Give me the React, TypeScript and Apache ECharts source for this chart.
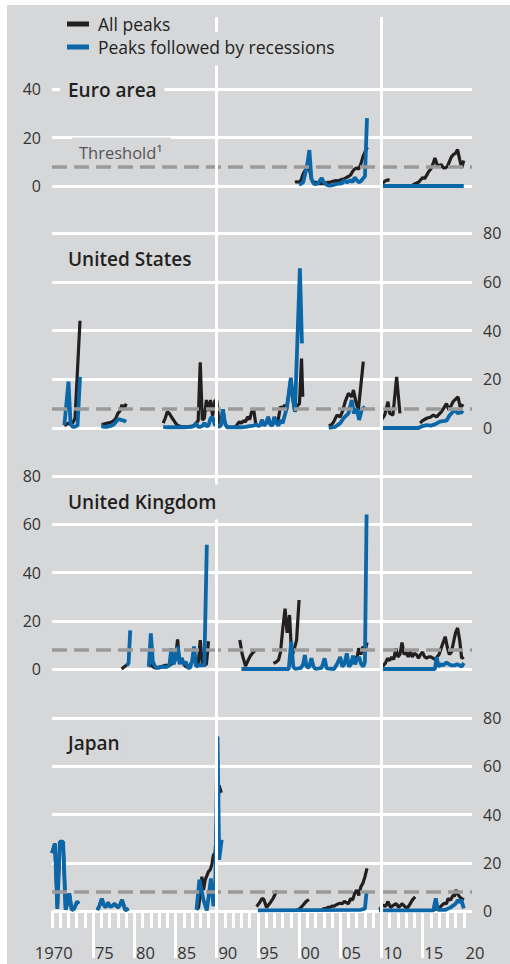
import React, { useEffect, useRef } from "react";
import * as echarts from "echarts";

type Pt = [number, number | null];

// ---------- axes & reference values ----------
const xMin = 1970;
const xMax = 2021;
const tickFirst = 1970;
const tickLast = 2020;
const tickStep = 5;
const longTickYears = [1975, 1980, 1985, 1995, 2000, 2005, 2015];
const dividerYears = [1990, 2010];
const threshold = 8;
const thresholdLabel = "Threshold¹";
const seriesNames = ["All peaks", "Peaks followed by recessions"];
const panelTitles = ["Euro area", "United States", "United Kingdom", "Japan"];
const panelMax = [40, 80, 80, 80];
const yStep = 20;

// ---------- Euro area ----------
const euroAll: Pt[] = [
  [1999.5, 1.5], [1999.75, 1.8], [2000, 1.5], [2000.25, 2.5], [2000.5, 5], [2000.75, 6.5], [2001, 8], [2001.25, 7],
  [2001.5, 3], [2001.75, 1.5], [2002, 1.5], [2002.25, 1.2], [2002.5, 1], [2002.75, 1], [2003, 1], [2003.25, 1.2],
  [2003.5, 1.5], [2003.75, 1.5], [2004, 1.8], [2004.25, 2], [2004.5, 2.2], [2004.75, 2], [2005, 2.5], [2005.25, 2.8],
  [2005.5, 3], [2005.75, 3.5], [2006, 4], [2006.25, 4.5], [2006.5, 6], [2006.75, 7], [2007, 7.5], [2007.25, 7],
  [2007.5, 9], [2007.75, 12], [2008, 14], [2008.3, 16],
  [2009, null],
  [2010, 0.3], [2010.25, 1.5], [2010.5, 2.2], [2010.75, 2.5], [2011, 2.4],
  [2012, null],
  [2013.75, 0.3], [2014, 0.8], [2014.25, 1.2], [2014.5, 1.5], [2014.75, 2.5], [2015, 3.5], [2015.25, 3], [2015.5, 4.5],
  [2015.75, 6], [2016, 7], [2016.25, 9], [2016.5, 11.5], [2016.75, 9], [2017, 8], [2017.25, 9], [2017.5, 7.5],
  [2017.75, 7.5], [2018, 8], [2018.25, 10], [2018.5, 12], [2018.75, 13], [2019, 13.5], [2019.25, 15], [2019.5, 11],
  [2019.75, 7.5], [2020, 10.5],
];
const euroRec: Pt[] = [
  [2000, 0.5], [2000.25, 1], [2000.5, 1.5], [2000.75, 5], [2001, 9], [2001.25, 14.8], [2001.5, 3], [2001.75, 1],
  [2002, 0.8], [2002.25, 1], [2002.5, 2], [2002.75, 3.3], [2003, 1.5], [2003.25, 0.8], [2003.5, 0.3], [2003.75, 0.2],
  [2004, 0.3], [2004.25, 0.5], [2004.5, 0.8], [2004.75, 1], [2005, 1], [2005.25, 1.2], [2005.5, 2.5], [2005.75, 1.5],
  [2006, 1.8], [2006.25, 2.5], [2006.5, 1.5], [2006.75, 3.5], [2007, 2.5], [2007.25, 1.5], [2007.5, 2], [2007.75, 3],
  [2008, 4], [2008.25, 28],
  [2009, null],
  [2010, 0], [2020, 0],
];

// ---------- United States ----------
const usAll: Pt[] = [
  [1971.5, 1], [1971.75, 1.5], [1972, 2], [1972.25, 1.5], [1972.5, 2], [1972.8, 4], [1973.1, 24], [1973.4, 44],
  [1974, null],
  [1976, 1.5], [1976.25, 1.5], [1976.5, 1.8], [1976.75, 2], [1977, 2.2], [1977.25, 2.5], [1977.5, 3], [1977.75, 4],
  [1978, 6], [1978.25, 7], [1978.5, 9.5], [1978.75, 7.5], [1979, 10],
  [1980, null],
  [1983.5, 2], [1983.75, 4], [1984, 6.7], [1984.25, 6], [1984.5, 4.5], [1984.75, 3.3], [1985, 2], [1985.25, 1],
  [1985.5, 0.8], [1985.75, 0.5], [1986.5, 0.5], [1987, 0.8], [1987.25, 1], [1987.5, 2], [1987.75, 3], [1988, 27],
  [1988.25, 3.3], [1988.5, 4], [1988.75, 11.5], [1989, 7], [1989.25, 11.5], [1989.5, 5], [1989.75, 11], [1990, 11.5],
  [1990.25, 3], [1990.5, 1], [1990.75, 7.7], [1991, 2], [1991.25, 0.3], [1992.25, 0.3], [1992.5, 1.5], [1992.75, 2.5],
  [1993, 2], [1993.25, 3], [1993.5, 2.5], [1993.75, 4.6], [1994, 3.5], [1994.25, 6.7], [1994.5, 7.4], [1994.75, 1.5],
  [1995, 1], [1995.25, 1], [1995.5, 3.3], [1995.75, 1], [1996, 2], [1996.25, 4.5], [1996.5, 1.5], [1996.75, 1],
  [1997, 4.5], [1997.25, 2], [1997.5, 4], [1997.75, 8.8], [1998, 8], [1998.25, 9.4], [1998.5, 8], [1998.75, 14],
  [1999, 20.5], [1999.25, 12], [1999.5, 6.7], [1999.75, 9], [2000.05, 10], [2000.3, 28.5], [2000.45, 12.8],
  [2001, null],
  [2003.6, 1], [2003.9, 1.2], [2004.2, 2.5], [2004.6, 5.3], [2005, 4.6], [2005.3, 7], [2005.6, 10.8], [2006, 14.2],
  [2006.4, 12.8], [2006.6, 15.6], [2006.9, 10.8], [2007.2, 7.4], [2007.8, 27.2],
  [2009, null],
  [2010, 3.3], [2010.4, 5.3], [2010.8, 10.8], [2011, 6], [2011.4, 5.3], [2011.85, 21], [2012.25, 6],
  [2013, null],
  [2014.7, 2], [2015, 3], [2015.5, 4], [2016, 4.5], [2016.3, 5.3], [2016.7, 4.6], [2017.3, 6.7], [2017.9, 10],
  [2018.2, 7.4], [2018.7, 10.8], [2019.3, 12.8], [2019.6, 8], [2019.9, 9.8],
];
const usRec: Pt[] = [
  [1971.5, 1.2], [1971.75, 10], [1972, 19], [1972.25, 2], [1972.5, 0.5], [1972.75, 0.5], [1973.1, 1], [1973.4, 21],
  [1974, null],
  [1976, 0.8], [1976.25, 0.5], [1976.75, 0.5], [1977, 0.8], [1977.25, 1], [1977.5, 1.5], [1977.75, 2.5], [1978, 3.5],
  [1978.25, 3.5], [1978.5, 3.2], [1978.75, 3], [1979, 2.5],
  [1980, null],
  [1983.5, 0.5], [1984, 0.3], [1985, 0.3], [1986, 0.3], [1987, 0.5], [1987.25, 0.8], [1987.5, 2], [1987.75, 0.5],
  [1988, 0.5], [1988.25, 0.8], [1988.5, 2], [1988.75, 0.8], [1989, 1], [1989.25, 4], [1989.5, 4.5], [1989.75, 1.5],
  [1990, 1], [1990.25, 0.5], [1990.5, 1], [1990.75, 7.7], [1991, 2], [1991.25, 0.3], [1993, 0.3], [1993.5, 0.5],
  [1994, 0.8], [1994.5, 1], [1994.75, 1.5], [1995, 1], [1995.25, 1], [1995.5, 3.3], [1995.75, 1], [1996, 2],
  [1996.25, 4.5], [1996.5, 1.5], [1996.75, 1], [1997, 4.5], [1997.25, 2], [1997.5, 1], [1997.75, 3.3], [1998, 2],
  [1998.25, 5], [1998.5, 8], [1998.75, 14], [1999, 20.5], [1999.25, 12], [1999.5, 6.7], [2000.1, 65.5], [2000.35, 34.7],
  [2001, null],
  [2003.6, 0], [2004.4, 0.5], [2005, 2], [2005.4, 4], [2006, 6], [2006.4, 11.5], [2006.65, 6], [2007, 8],
  [2007.3, 3.3], [2007.6, 7.4], [2008, 8.8],
  [2009, null],
  [2010, 0], [2014.5, 0], [2015, 0.8], [2015.5, 1.2], [2016, 1], [2016.5, 1.5], [2017.1, 2.6], [2017.9, 3],
  [2018.3, 5.3], [2018.9, 7.4], [2019.3, 6], [2019.7, 6.7], [2019.9, 6],
];

// ---------- United Kingdom ----------
const ukAll: Pt[] = [
  [1978.45, 0], [1978.75, 0.8], [1979, 1.5], [1979.3, 2],
  [1980, null],
  [1981.75, 1], [1982, 2], [1982.25, 1], [1982.5, 0.5], [1982.75, 0.5], [1983, 0.8], [1983.25, 1], [1983.5, 1.2],
  [1983.75, 1.5], [1984, 1.5], [1984.25, 1.5], [1984.5, 2], [1984.75, 3], [1985, 5], [1985.25, 12.3], [1985.5, 3],
  [1985.75, 4], [1986, 2], [1986.25, 1], [1986.5, 1], [1986.75, 1.5], [1987, 3], [1987.25, 6], [1987.5, 2],
  [1987.75, 2], [1988, 12], [1988.25, 2], [1988.5, 1.5], [1988.75, 2], [1989, 11.5],
  [1990, null],
  [1992.8, 12], [1993.1, 6], [1993.5, 1.2], [1993.8, 3.5], [1994.1, 5.5], [1994.4, 6.8], [1994.75, 7.9],
  [1995, null],
  [1996.9, 2.3], [1997.25, 3], [1997.5, 3.7], [1997.75, 7], [1998, 16], [1998.3, 25], [1998.55, 15], [1998.85, 22.4],
  [1999.1, 5], [1999.4, 8], [1999.7, 12], [2000, 28.6],
  [2001, null],
  [2006.5, 2.3], [2006.75, 5], [2007, 4], [2007.25, 8.6], [2007.5, 6], [2007.75, 9.3], [2008, 7], [2008.25, 11],
  [2009, null],
  [2010, 1], [2010.25, 1.5], [2010.5, 2.5], [2010.75, 4.4], [2011, 3.5], [2011.25, 5], [2011.5, 4], [2011.75, 8.6],
  [2012, 5], [2012.25, 6], [2012.5, 11], [2012.75, 6], [2013, 7], [2013.25, 5], [2013.5, 7.3], [2013.75, 5],
  [2014, 6.5], [2014.25, 6], [2014.5, 4.5], [2014.75, 6], [2015, 7], [2015.25, 5], [2015.5, 4.5], [2015.75, 5],
  [2016, 5], [2016.25, 4.5], [2016.5, 4], [2016.75, 5], [2017, 6], [2017.25, 8.6], [2017.5, 11], [2017.75, 13.4],
  [2018, 9], [2018.25, 6], [2018.5, 7], [2018.75, 11], [2019, 15], [2019.25, 17], [2019.5, 12], [2019.75, 4.4],
  [2020, 5],
];
const ukRec: Pt[] = [
  [1979.1, 1.5], [1979.3, 2.5], [1979.5, 16],
  [1980, null],
  [1981.75, 1], [1982, 14.8], [1982.25, 3], [1982.5, 1], [1982.75, 0.5], [1983, 0.5], [1983.25, 0.8], [1983.5, 1],
  [1983.75, 0.8], [1984, 1], [1984.25, 1.5], [1984.5, 8.6], [1984.75, 2], [1985, 4], [1985.25, 9.3], [1985.5, 2],
  [1985.75, 4.6], [1986, 2], [1986.25, 3], [1986.5, 0.5], [1986.75, 0.5], [1987, 3], [1987.25, 9.3], [1987.5, 1],
  [1987.75, 1.5], [1988, 1.5], [1988.25, 1.5], [1988.5, 1.7], [1988.8, 51.5],
  [1990, null],
  [1993, 0], [1998.75, 0], [1999.05, 11.3], [1999.3, 1], [1999.5, 0], [2000.25, 0.5], [2000.5, 2], [2000.7, 5.8],
  [2000.9, 1], [2001.2, 0.5], [2001.5, 4.5], [2001.75, 1], [2002, 0], [2002.75, 0.5], [2003.1, 4.4], [2003.35, 0.3],
  [2004.25, 0], [2004.6, 2], [2005, 5], [2005.25, 1], [2005.5, 2], [2005.8, 6.5], [2006.05, 1], [2006.3, 2],
  [2006.55, 5.5], [2006.8, 2], [2007.05, 4], [2007.3, 5], [2007.55, 2], [2007.8, 1], [2008, 3], [2008.2, 64],
  [2009, null],
  [2010, 0], [2016.5, 0], [2016.7, 5], [2016.95, 1], [2017.25, 2], [2017.5, 1.5], [2017.9, 2.7], [2018.2, 2],
  [2018.5, 1.5], [2018.9, 1.5], [2019.2, 2], [2019.5, 1.5], [2019.75, 1], [2020, 2.5],
];

// ---------- Japan ----------
const jpEarly: Pt[] = [
  [1970, 24], [1970.35, 28], [1970.65, 1], [1970.95, 28.7], [1971.35, 28.7], [1971.65, 0.5], [1971.85, 3], [1972.1, 7.3],
  [1972.4, 0.3], [1972.7, 1], [1973.05, 3.9], [1973.25, 3],
];
const jpMid70s: Pt[] = [
  [1975.5, 0.4], [1975.75, 2], [1976.05, 5.2], [1976.3, 2.5], [1976.5, 1.5], [1976.8, 3.5], [1977.05, 1.8], [1977.3, 2],
  [1977.6, 3], [1977.85, 2], [1978.05, 1.5], [1978.25, 2.5], [1978.5, 4.6], [1978.9, 0.3], [1979.3, 1],
];
const jpAll: Pt[] = [
  ...jpEarly,
  [1974, null],
  ...jpMid70s,
  [1980, null],
  [1987.55, 0.5], [1987.8, 1.5], [1988.05, 8], [1988.2, 14.2], [1988.4, 8.7], [1988.6, 12.9], [1989, 16.3], [1989.2, 17],
  [1989.4, 19.1], [1989.6, 23.2], [1989.8, 24], [1990.3, 52], [1990.55, 49],
  [1991, null],
  [1994.85, 1.8], [1995.2, 3.5], [1995.5, 5.2], [1995.7, 5], [1996.05, 1.5], [1996.45, 3.2], [1996.85, 5.2], [1997.3, 8.5],
  [1998, null],
  [1999.7, 0.3], [2000.1, 1], [2000.5, 2.5], [2000.85, 3.9], [2001.2, 4.8],
  [2002, null],
  [2002.75, 0.5], [2003, 1], [2003.25, 1], [2003.5, 1.5], [2003.75, 1.5], [2004, 2], [2004.25, 2], [2004.5, 2.5],
  [2004.75, 3], [2005, 3.2], [2005.25, 3], [2005.5, 4], [2005.75, 3.5], [2006, 3], [2006.25, 5.2], [2006.5, 4.5],
  [2006.75, 7.3], [2007, 8.7], [2007.25, 6.5], [2007.5, 10], [2007.75, 11.5], [2008, 14.2], [2008.25, 17.7],
  [2009, null],
  [2009.8, 0.5], [2010.1, 2.5], [2010.5, 2], [2010.8, 3.9], [2011.1, 1.5], [2011.5, 2.5], [2011.8, 3], [2012.1, 1.5],
  [2012.5, 3], [2012.8, 2], [2013.1, 1], [2013.5, 3], [2013.75, 4.5], [2014.1, 5.9],
  [2015, null],
  [2016.3, 0.3], [2016.75, 1], [2017.1, 1.5], [2017.4, 2.5], [2017.6, 3.2], [2017.9, 3], [2018.1, 5.2], [2018.4, 4.5],
  [2018.7, 6.6], [2018.85, 6], [2019.05, 8.7], [2019.35, 6.5], [2019.6, 5.5], [2020, 4.6],
];
const jpRec: Pt[] = [
  ...jpEarly,
  [1974, null],
  ...jpMid70s,
  [1980, null],
  [1987.55, 0.5], [1987.9, 13], [1988.4, 4.6], [1988.8, 0.2], [1989.3, 13.5], [1989.6, 2], [1989.8, 6], [1990.1, 72.3],
  [1990.3, 21.2], [1990.6, 29.5],
  [1991, null],
  [1995, 0.3], [2007.5, 0.5], [2008, 1], [2008.2, 8],
  [2009, null],
  [2009.7, 0.3], [2016.3, 0.3], [2016.6, 5.2], [2016.85, 0.5], [2017.8, 0.5], [2018.1, 1], [2018.4, 1.5], [2018.7, 2.2],
  [2019, 3], [2019.3, 4.6], [2019.45, 3.5], [2019.7, 4.6], [2020, 1.1],
];

const allSeries = [euroAll, usAll, ukAll, jpAll];
const recSeries = [euroRec, usRec, ukRec, jpRec];

// ---------- styling / layout ----------
const BG = "#d6d7d9";
const BLACK = "#231f20";
const BLUE = "#0b67a8";
const GREY_DASH = "#9a9a9a";
const TEXT = "#333333";
const FONT = "'Open Sans', 'Noto Sans', 'DejaVu Sans', sans-serif";
const PLOT_LEFT = 52;
const PLOT_WIDTH = 420;
const PX_PER_YEAR = PLOT_WIDTH / (xMax - xMin);
const layout = [
  { top: 89, height: 97, side: "left", titleTop: 72.5 },
  { top: 233, height: 195, side: "right", titleTop: 241.5 },
  { top: 476, height: 193, side: "left", titleTop: 484.5 },
  { top: 718, height: 193, side: "right", titleTop: 725.5 },
];

function buildOption() {
  const grid: any[] = [];
  const xAxis: any[] = [];
  const yAxis: any[] = [];
  const series: any[] = [];
  const title: any[] = [];

  layout.forEach((l, i) => {
    grid.push({ left: PLOT_LEFT, width: PLOT_WIDTH, top: l.top, height: l.height });
    xAxis.push({ gridIndex: i, type: "value", min: xMin, max: xMax, show: false });
    yAxis.push({
      gridIndex: i,
      type: "value",
      min: 0,
      max: panelMax[i],
      interval: yStep,
      position: l.side,
      axisLine: { show: false },
      axisTick: { show: false },
      axisLabel: { color: TEXT, fontSize: 16, fontFamily: FONT, margin: 11 },
      splitLine: { show: true, lineStyle: { color: "#ffffff", width: 3 } },
    });
    title.push({
      text: panelTitles[i],
      left: 60,
      top: l.titleTop,
      padding: [8, 8, 8, 8],
      backgroundColor: BG,
      z: 10,
      textStyle: { color: BLACK, fontSize: 19, fontWeight: 600, fontFamily: FONT },
    });
    series.push({
      type: "line",
      name: seriesNames[0],
      xAxisIndex: i,
      yAxisIndex: i,
      data: allSeries[i],
      symbol: "none",
      showSymbol: false,
      connectNulls: false,
      clip: false,
      z: 3,
      lineStyle: { color: BLACK, width: 3.2 },
      itemStyle: { color: BLACK },
      markLine: {
        silent: true,
        symbol: ["none", "none"],
        lineStyle: { color: GREY_DASH, width: 3.5, type: [15, 7] },
        label:
          i === 0
            ? {
                show: true,
                position: "insideStartTop",
                formatter: thresholdLabel,
                color: "#555555",
                fontSize: 16.5,
                fontFamily: FONT,
                backgroundColor: BG,
                padding: [6, 9, 3, 7],
                distance: [20, 3],
              }
            : { show: false },
        data: [{ yAxis: threshold }],
      },
    });
    series.push({
      type: "line",
      name: seriesNames[1],
      xAxisIndex: i,
      yAxisIndex: i,
      data: recSeries[i],
      symbol: "none",
      showSymbol: false,
      connectNulls: false,
      clip: false,
      z: 4,
      lineStyle: { color: BLUE, width: 3.8 },
      itemStyle: { color: BLUE },
    });
  });

  // grid 4: full-height white divider lines
  grid.push({ left: PLOT_LEFT, width: PLOT_WIDTH, top: 17, height: 941 });
  xAxis.push({ gridIndex: 4, type: "value", min: xMin, max: xMax, show: false });
  yAxis.push({ gridIndex: 4, type: "value", min: 0, max: 1, show: false });
  series.push({
    type: "line",
    xAxisIndex: 4,
    yAxisIndex: 4,
    data: [],
    z: 1,
    silent: true,
    markLine: {
      silent: true,
      symbol: ["none", "none"],
      label: { show: false },
      lineStyle: { color: "#ffffff", width: 3, type: "solid" },
      data: dividerYears.map((y) => ({ xAxis: y })),
    },
  });

  // grid 5: year labels (right-aligned at mid of each 5-year span)
  const labelShift = (tickStep / 2) * PX_PER_YEAR;
  const tickWidth = (tickLast - tickFirst) * PX_PER_YEAR;
  grid.push({ left: PLOT_LEFT + labelShift, width: tickWidth, top: 880, height: 31 });
  xAxis.push({
    gridIndex: 5,
    type: "value",
    min: tickFirst,
    max: tickLast,
    interval: tickStep,
    position: "bottom",
    axisLine: { show: false },
    axisTick: { show: false },
    splitLine: { show: false },
    axisLabel: {
      show: true,
      align: "right",
      margin: 33,
      color: TEXT,
      fontSize: 16.5,
      fontFamily: FONT,
      formatter: (v: number) => (v === tickFirst ? String(v) : String(v % 100).padStart(2, "0")),
    },
  });
  yAxis.push({ gridIndex: 5, type: "value", min: 0, max: 1, show: false });
  series.push({ type: "line", xAxisIndex: 5, yAxisIndex: 5, data: [], silent: true });

  // grid 6: long 5-year ticks
  grid.push({ left: PLOT_LEFT, width: PLOT_WIDTH, top: 920, height: 38 });
  xAxis.push({ gridIndex: 6, type: "value", min: xMin, max: xMax, show: false });
  yAxis.push({ gridIndex: 6, type: "value", min: 0, max: 1, show: false });
  series.push({
    type: "line",
    xAxisIndex: 6,
    yAxisIndex: 6,
    data: [],
    z: 1,
    silent: true,
    markLine: {
      silent: true,
      symbol: ["none", "none"],
      label: { show: false },
      lineStyle: { color: "#ffffff", width: 3, type: "solid" },
      data: longTickYears.map((y) => ({ xAxis: y })),
    },
  });

  // grid 7: short yearly ticks
  grid.push({ left: PLOT_LEFT, width: tickWidth, top: 880, height: 31 });
  xAxis.push({
    gridIndex: 7,
    type: "value",
    min: tickFirst,
    max: tickLast,
    interval: tickStep,
    position: "bottom",
    offset: 9,
    axisLine: { show: false },
    axisTick: { show: true, length: 17, lineStyle: { color: "#ffffff", width: 3 } },
    minorTick: { show: true, splitNumber: 5, length: 17, lineStyle: { color: "#ffffff", width: 3 } },
    axisLabel: { show: false },
    splitLine: { show: false },
  });
  yAxis.push({ gridIndex: 7, type: "value", min: 0, max: 1, show: false });
  series.push({ type: "line", xAxisIndex: 7, yAxisIndex: 7, data: [], silent: true });

  const legendBase = {
    orient: "horizontal",
    left: 62,
    icon: "rect",
    itemWidth: 22,
    itemHeight: 5,
    selectedMode: false,
    backgroundColor: BG,
    z: 10,
    zlevel: 0,
    textStyle: { color: BLACK, fontSize: 17.5, fontFamily: FONT, padding: [0, 0, 0, 4] },
  };

  return {
    animation: false,
    backgroundColor: "transparent",
    title,
    legend: [
      { ...legendBase, data: [seriesNames[0]], top: 13, padding: [2, 6, 2, 5] },
      { ...legendBase, data: [seriesNames[1]], top: 32, padding: [6, 8, 9.5, 5] },
    ],
    grid,
    xAxis,
    yAxis,
    series,
  };
}

export default function App() {
  const ref = useRef<HTMLDivElement>(null);
  useEffect(() => {
    if (!ref.current) return;
    const chart = echarts.init(ref.current, undefined, { renderer: "svg" });
    chart.setOption(buildOption() as any);
    return () => chart.dispose();
  }, []);
  return (
    <div style={{ position: "fixed", left: 0, top: 0, width: 510, height: 964, background: "#ffffff" }}>
      <div style={{ position: "absolute", left: 7, top: 5, width: 503, height: 959, background: BG }} />
      <div ref={ref} style={{ position: "absolute", left: 0, top: 0, width: 510, height: 964 }} />
    </div>
  );
}
